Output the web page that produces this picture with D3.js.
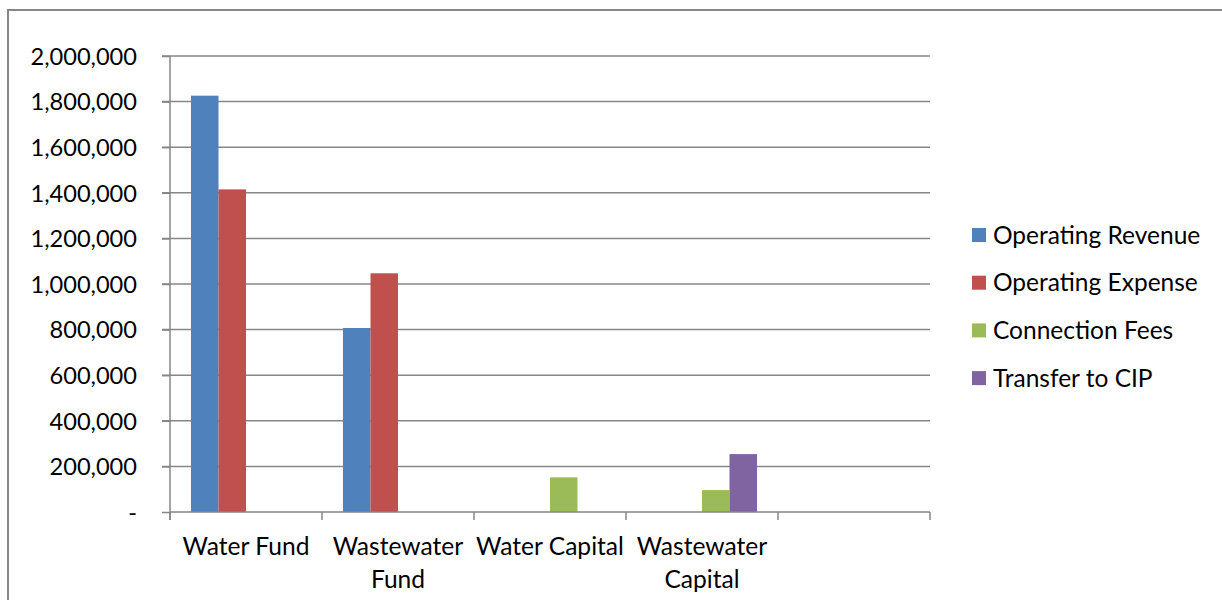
<!DOCTYPE html>
<html><head><meta charset="utf-8">
<script src="https://cdn.jsdelivr.net/npm/d3@7"></script>
<style>body{margin:0;background:#fff}svg{display:block}text{font-family:Lato,"Open Sans",sans-serif;fill:#000}</style>
</head><body><svg id="c" width="1222" height="600"></svg>
<script>
const categories = ["Water Fund", "Wastewater Fund", "Water Capital", "Wastewater Capital", ""];
const categoryLines = [["Water Fund"], ["Wastewater", "Fund"], ["Water Capital"], ["Wastewater", "Capital"], [""]];
const seriesNames = ["Operating Revenue", "Operating Expense", "Connection Fees", "Transfer to CIP"];
const operatingRevenue = [1826000, 807000, 0, 0, 0];
const operatingExpense = [1415000, 1047000, 0, 0, 0];
const connectionFees = [0, 0, 152000, 96000, 0];
const transferToCIP = [0, 0, 0, 254000, 0];
const yTicks = [0, 200000, 400000, 600000, 800000, 1000000, 1200000, 1400000, 1600000, 1800000, 2000000];
const colors = ["#4f81bd", "#c0504d", "#9bbb59", "#8064a2"];

const series = [operatingRevenue, operatingExpense, connectionFees, transferToCIP];
const svg = d3.select("#c");
const grid = "#868686";

// chart border
svg.append("path").attr("d", "M8,600 V10 H1222").attr("fill", "none").attr("stroke", grid).attr("stroke-width", 2);

const x0 = d3.scaleBand().domain(d3.range(categories.length)).range([170, 930]).paddingInner(0).paddingOuter(0);
const x1 = d3.scaleBand().domain(d3.range(series.length)).range([0, x0.bandwidth()]).paddingInner(0).paddingOuter(0.764);
const y = d3.scaleLinear().domain([0, 2000000]).range([512, 56]);

// gridlines
svg.append("g").selectAll("line").data(yTicks.filter(d => d > 0)).join("line")
  .attr("x1", 162).attr("x2", 930).attr("y1", d => y(d)).attr("y2", d => y(d))
  .attr("stroke", grid).attr("stroke-width", 1.5);

// y axis
const ya = svg.append("g").attr("transform", "translate(170,0)")
  .call(d3.axisLeft(y).tickValues(yTicks).tickSize(8).tickPadding(25)
    .tickFormat(d => d === 0 ? "-" : d3.format(",")(d)));
ya.select(".domain").remove();
ya.selectAll(".tick line").attr("stroke", grid).attr("stroke-width", 1.5);
ya.selectAll(".tick text").attr("font-size", 23.6).attr("dy", "0.35em").attr("fill", "#000");
ya.append("line").attr("x1", 0).attr("x2", 0).attr("y1", 56).attr("y2", 520).attr("stroke", grid).attr("stroke-width", 1.5);

// bars
series.forEach((vals, si) => {
  svg.append("g").selectAll("rect").data(vals.map((v, ci) => ({v, ci}))).join("rect")
    .filter(d => d.v > 0)
    .attr("x", d => x0(d.ci) + x1(si))
    .attr("width", x1.bandwidth())
    .attr("y", d => y(d.v))
    .attr("height", d => y(0) - y(d.v))
    .attr("fill", colors[si]);
});

// x axis
svg.append("line").attr("x1", 170).attr("x2", 930).attr("y1", y(0)).attr("y2", y(0)).attr("stroke", grid).attr("stroke-width", 1.5);
const bounds = d3.range(categories.length + 1).map(i => i < categories.length ? x0(i) : x0(categories.length - 1) + x0.bandwidth());
svg.append("g").selectAll("line").data(bounds).join("line")
  .attr("x1", d => d).attr("x2", d => d).attr("y1", y(0)).attr("y2", 520)
  .attr("stroke", grid).attr("stroke-width", 1.5);
const xl = svg.append("g").selectAll("text").data(categoryLines).join("text")
  .attr("text-anchor", "middle").attr("font-size", 24.6)
  .attr("x", (d, i) => x0(i) + x0.bandwidth() / 2).attr("y", 555);
xl.selectAll("tspan").data(d => d).join("tspan")
  .attr("x", function() { return d3.select(this.parentNode).attr("x"); })
  .attr("dy", (d, i) => i === 0 ? 0 : 32.5).text(d => d);

// legend
const lg = svg.append("g").selectAll("g").data(seriesNames).join("g")
  .attr("transform", (d, i) => `translate(972,${235 + i * 47.7})`);
lg.append("rect").attr("x", 0).attr("y", -7).attr("width", 14).attr("height", 14).attr("fill", (d, i) => colors[i]);
lg.append("text").attr("x", 21).attr("dy", "0.35em").attr("font-size", 24.5).text(d => d);
</script></body></html>
